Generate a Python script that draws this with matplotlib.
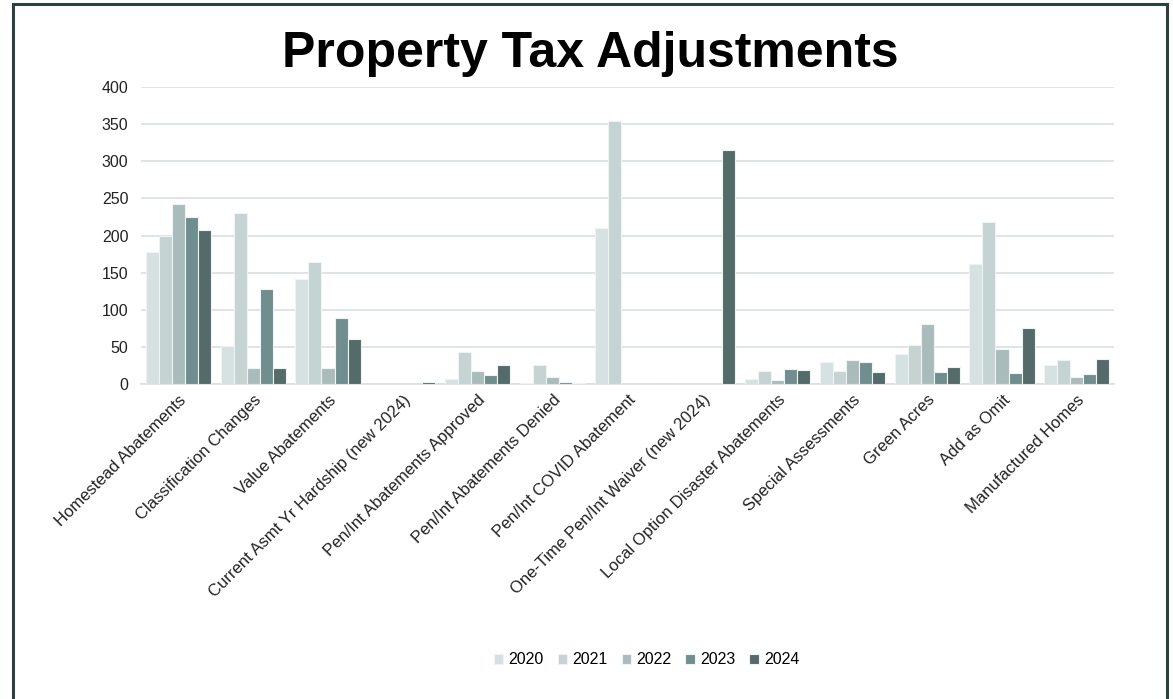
import numpy as np
import matplotlib.pyplot as plt
from matplotlib.patches import Rectangle

plt.rcParams['font.family'] = ['Liberation Sans', 'DejaVu Sans']

categories = ['Homestead Abatements', 'Classification Changes', 'Value Abatements',
              'Current Asmt Yr Hardship (new 2024)', 'Pen/Int Abatements Approved',
              'Pen/Int Abatements Denied', 'Pen/Int COVID Abatement',
              'One-Time Pen/Int Waiver (new 2024)', 'Local Option Disaster Abatements',
              'Special Assessments', 'Green Acres', 'Add as Omit', 'Manufactured Homes']
years = ['2020', '2021', '2022', '2023', '2024']

# counts per category, one list per year
y2020 = [178, 51, 141, 0, 7, 1, 210, 0, 7, 30, 41, 162, 25]
y2021 = [199, 230, 165, 0, 43, 26, 354, 0, 18, 17, 53, 218, 32]
y2022 = [242, 22, 22, 0, 18, 9, 0, 0, 6, 32, 81, 47, 10]
y2023 = [225, 128, 89, 0, 12, 3, 0, 0, 20, 29, 16, 15, 14]
y2024 = [208, 22, 61, 3, 25, 2, 0, 315, 19, 16, 23, 76, 34]
series = [y2020, y2021, y2022, y2023, y2024]

colors = ['#d6e1e1', '#c5d3d3', '#a9bbba', '#6f8e8d', '#546b69']

fig = plt.figure(figsize=(11.73, 6.99), dpi=100)
ax = fig.add_axes([0.120, 0.4506, 0.830, 0.4249])

x = np.arange(len(categories))
w = 0.174
for i, (vals, c) in enumerate(zip(series, colors)):
    ax.bar(x + (i - 2) * w, vals, width=w, color=c, edgecolor='#eef3f3',
           linewidth=0.8, label=years[i], zorder=3)

ax.set_ylim(0, 400)
ax.set_yticks(range(0, 401, 50))
ax.set_xlim(-0.5, len(categories) - 0.5)
ax.set_xticks(x)
ax.set_xticklabels(categories, rotation=45, ha='right', rotation_mode='anchor',
                   fontsize=12, color='#222222')
ax.tick_params(axis='y', labelsize=11.5, labelcolor='#222222', length=0, pad=9)
ax.tick_params(axis='x', length=0, pad=6)
ax.grid(axis='y', color='#d9e0e0', linewidth=1.2, zorder=0)
for s in ['top', 'right', 'left']:
    ax.spines[s].set_visible(False)
ax.spines['bottom'].set_color('#d9e0e0')
ax.spines['bottom'].set_linewidth(1.2)

fig.text(0.503, 0.904, 'Property Tax Adjustments', ha='center', va='baseline',
         fontsize=36, fontweight='bold', color='black')

fig.legend(loc='center', bbox_to_anchor=(0.551, 0.056), ncol=5, frameon=False,
           fontsize=11.5, handlelength=0.6, handleheight=0.6, handletextpad=0.3,
           columnspacing=0.9)

# frame round the slide
fig.patches.append(Rectangle((0.0110, -0.02), 0.9840, 1.0137, transform=fig.transFigure,
                             fill=False, edgecolor='#2c403e', linewidth=2.2))

fig.savefig('out.png', dpi=100)
